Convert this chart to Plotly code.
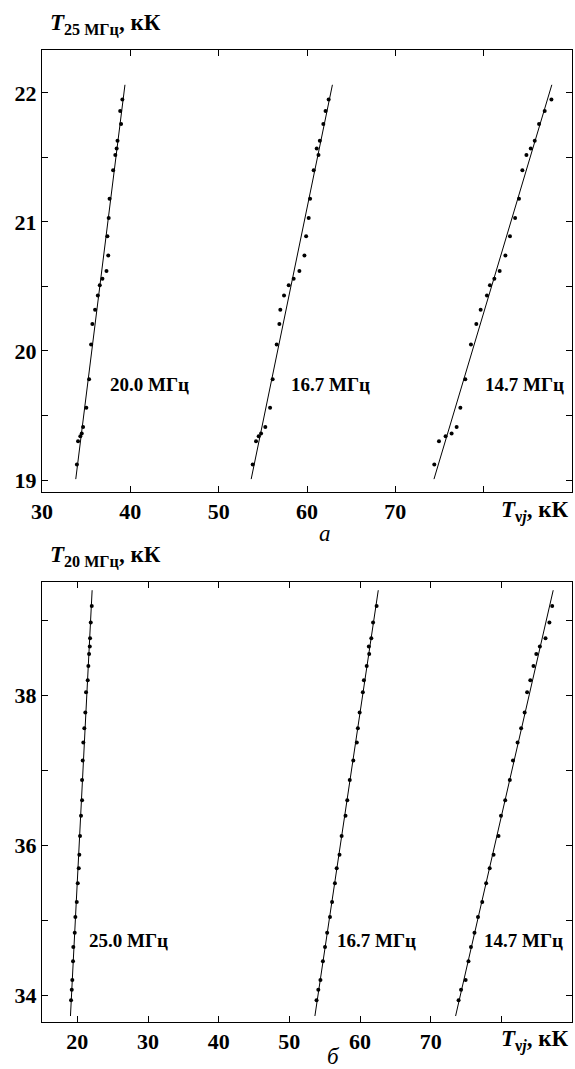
import numpy as np
import plotly.graph_objects as go

# ---------------- data: panel "а" (y = T at 25 MHz, kK) ----------------
t25_a = [21.95, 21.86, 21.76, 21.63, 21.57, 21.52, 21.40, 21.18, 21.03, 20.89,
         20.74, 20.62, 20.56, 20.51, 20.43, 20.32, 20.21, 20.05, 19.78, 19.56,
         19.41, 19.36, 19.34, 19.30, 19.12]
t20_a = [39.10, 38.85, 38.95, 38.55, 38.45, 38.30, 38.05, 37.65, 37.55, 37.40,
         37.50, 37.30, 36.84, 36.54, 36.32, 36.01, 35.70, 35.56, 35.33, 35.02,
         34.65, 34.50, 34.34, 34.08, 33.95]
t167_a = [62.45, 62.10, 61.85, 61.45, 61.10, 61.30, 60.76, 60.35, 60.19, 59.90,
          59.71, 59.14, 58.49, 57.93, 57.40, 56.98, 56.87, 56.57, 56.11, 55.82,
          55.28, 54.80, 54.53, 54.23, 53.85]
t147_a = [87.67, 86.91, 86.27, 85.78, 85.33, 84.84, 84.38, 84.00, 83.56, 82.98,
          82.46, 81.81, 81.21, 80.71, 80.37, 79.66, 79.17, 78.56, 77.92, 77.36,
          76.94, 76.37, 75.69, 74.94, 74.41]

# ---------------- data: panel "б" (y = T at 20 MHz, kK) ----------------
t20_b = [39.19, 38.97, 38.76, 38.65, 38.55, 38.39, 38.20, 38.04, 37.77, 37.56,
         37.37, 37.13, 36.87, 36.60, 36.39, 36.12, 35.87, 35.69, 35.49, 35.24,
         35.04, 34.83, 34.64, 34.45, 34.20, 34.07, 33.93]
t25_b = [22.04, 21.90, 21.80, 21.76, 21.66, 21.56, 21.47, 21.23, 21.13, 20.99,
         20.85, 20.76, 20.67, 20.67, 20.52, 20.38, 20.28, 20.20, 20.06, 19.92,
         19.72, 19.63, 19.43, 19.39, 19.29, 19.21, 19.11]
t167_b = [62.35, 61.85, 61.60, 61.25, 61.30, 60.95, 60.55, 60.40, 59.95, 59.70,
          59.55, 59.05, 58.55, 58.20, 57.95, 57.40, 57.10, 56.70, 56.45, 56.05,
          55.75, 55.35, 55.05, 54.75, 54.40, 54.10, 53.85]
t147_b = [87.20, 86.80, 86.25, 85.45, 84.95, 84.55, 84.10, 83.65, 83.30, 82.80,
          82.30, 81.65, 81.20, 80.55, 79.95, 79.60, 78.90, 78.35, 77.85, 77.30,
          76.70, 76.20, 75.70, 75.35, 74.95, 74.30, 73.95]

labels_a = ["20.0 МГц", "16.7 МГц", "14.7 МГц"]
labels_b = ["25.0 МГц", "16.7 МГц", "14.7 МГц"]

# labelled ticks and unlabelled (minor) ticks
xticks_a = [30, 40, 50, 60, 70]
xminor_a = [80, 90]
yticks_a = [19, 20, 21, 22]
yminor_a = [19.5, 20.5, 21.5]
xticks_b = [20, 30, 40, 50, 60, 70]
xminor_b = [80]
yticks_b = [34, 36, 38]
yminor_b = [35, 37, 39]

# ---------------- figure ----------------
W, H = 575, 1069
FONT = "Liberation Serif"
fig = go.Figure()


def add_series(x, y, xa, ya):
    x = np.asarray(x, float)
    y = np.asarray(y, float)
    b, a = np.polyfit(y, x, 1)
    pad = 0.04 * (y.max() - y.min())
    yl = np.array([y.min() - pad, y.max() + pad])
    fig.add_trace(go.Scatter(x=a + b * yl, y=yl, mode="lines",
                             line=dict(color="black", width=1),
                             xaxis=xa, yaxis=ya, showlegend=False,
                             hoverinfo="skip"))
    fig.add_trace(go.Scatter(x=x, y=y, mode="markers",
                             marker=dict(color="black", size=4),
                             xaxis=xa, yaxis=ya, showlegend=False))


for xs in (t20_a, t167_a, t147_a):
    add_series(xs, t25_a, "x", "y")
for xs in (t25_b, t167_b, t147_b):
    add_series(xs, t20_b, "x2", "y2")


def py(p):
    return 1 - p / H


def axis(rng, ticks, minor, dom=None, anchor=None):
    d = dict(range=rng, anchor=anchor, tickmode="array", tickvals=ticks,
             showline=True, linecolor="black", linewidth=1, mirror="ticks",
             ticks="inside", ticklen=6, tickcolor="black", tickwidth=1,
             showgrid=False, zeroline=False,
             tickfont=dict(family=FONT, size=22, color="black", weight="bold"),
             minor=dict(tickmode="array", tickvals=minor, ticks="inside",
                        ticklen=6, tickcolor="black", tickwidth=1, showgrid=False))
    if dom is not None:
        d["domain"] = dom
    return d


fig.update_layout(
    width=W, height=H,
    margin=dict(l=42, r=3, t=0, b=0),
    paper_bgcolor="white", plot_bgcolor="white",
    font=dict(family=FONT, color="black"),
    xaxis=axis([30, 90], xticks_a, xminor_a, [0, 1], "y"),
    yaxis=axis([18.907, 22.333], yticks_a, yminor_a, [py(492), py(50)], "x"),
    xaxis2=axis([15, 90], xticks_b, xminor_b, [0, 1], "y2"),
    yaxis2=axis([33.64, 39.51], yticks_b, yminor_b, [py(1022), py(582)], "x2"),
)

lab_font = dict(family=FONT, size=19, color="black", weight="bold")
ann = []
# frequency labels inside panels
for txt, xv in zip(labels_a, [37.5, 58.0, 79.9]):
    ann.append(dict(x=xv, y=19.74, xref="x", yref="y", text=txt, showarrow=False,
                    xanchor="left", yanchor="middle", font=lab_font))
for txt, xv in zip(labels_b, [21.4, 56.5, 77.2]):
    ann.append(dict(x=xv, y=34.73, xref="x2", yref="y2", text=txt, showarrow=False,
                    xanchor="left", yanchor="middle", font=lab_font))

title_font = dict(family=FONT, size=23, color="black", weight="bold")
# axis titles
for ytop, sub in ((24, "25 МГц"), (556, "20 МГц")):
    ann.append(dict(x=6 / W, y=py(ytop), xref="paper", yref="paper",
                    text="<i>T</i><sub>" + sub + "</sub>, кК", showarrow=False,
                    xanchor="left", yanchor="middle", font=title_font))
for ybase in (511, 1040):
    ann.append(dict(x=574 / W, y=py(ybase), xref="paper", yref="paper",
                    text="<i>T</i><sub>ν<i>j</i></sub>, кК", showarrow=False,
                    xanchor="right", yanchor="middle", font=title_font))
# panel letters
for xl, yl, letter in ((307, 533, "а"), (316, 1056, "б")):
    ann.append(dict(x=xl / W, y=py(yl), xref="paper", yref="paper",
                    text="<i>" + letter + "</i>", showarrow=False,
                    xanchor="center", yanchor="middle",
                    font=dict(family=FONT, size=23, color="black")))

fig.update_layout(annotations=ann)
fig.write_html("out.html", config={"displayModeBar": False},
               post_script="document.body.style.margin='0px';"
                           "document.body.style.overflow='hidden';")
